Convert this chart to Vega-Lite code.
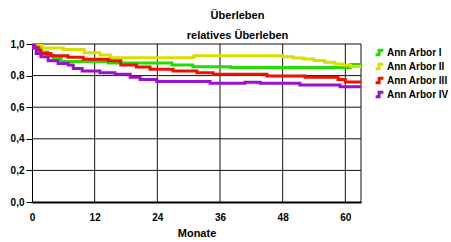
{
  "$schema": "https://vega.github.io/schema/vega-lite/v6.json",
  "width": 329,
  "height": 158,
  "autosize": {"type": "none"},
  "padding": {"left": 32, "top": 44, "right": 90, "bottom": 40},
  "background": "white",
  "config": {
    "font": "Liberation Sans",
    "view": {"stroke": null},
    "axisX": {
      "tickCount": 63,
      "labelExpr": "datum.value % 12 === 0 ? datum.label : ''",
      "labelOverlap": false,
      "labelFlush": false,
      "titleFont": "Liberation Sans",
      "titleFontSize": 11,
      "titleFontWeight": "bold",
      "titleColor": "black",
      "titlePadding": 5,
      "labelFont": "Liberation Sans",
      "labelFontSize": 10,
      "labelFontWeight": "bold",
      "labelColor": "black",
      "labelPadding": 10,
      "domainColor": "black",
      "domainWidth": 2,
      "tickColor": "black",
      "tickSize": 0,
      "grid": false
    },
    "axisY": {
      "labelExpr": "replace(format(datum.value, '.1f'), '.', ',')",
      "labelFont": "Liberation Sans",
      "labelFontSize": 10,
      "labelFontWeight": "bold",
      "labelColor": "black",
      "labelPadding": 2,
      "domainColor": "black",
      "domainWidth": 1,
      "tickColor": "black",
      "tickSize": 6,
      "grid": false
    }
  },
  "title": {
    "text": ["Überleben", "relatives Überleben"],
    "fontSize": 11,
    "fontWeight": "bold",
    "font": "Liberation Sans",
    "color": "black",
    "lineHeight": 20,
    "anchor": "middle",
    "dx": 41,
    "offset": -2
  },
  "datasets": {
    "xgrid": [{"t": 12}, {"t": 24}, {"t": 36}, {"t": 48}, {"t": 60}, {"t": 63}],
    "ygrid": [{"s": 0.2}, {"s": 0.4}, {"s": 0.6}, {"s": 0.8}, {"s": 1.0}],
    "surv": [
      {"g": "Ann Arbor I", "t": 0, "s": 1.0},
      {"g": "Ann Arbor I", "t": 0.8, "s": 0.98},
      {"g": "Ann Arbor I", "t": 1.7, "s": 0.95},
      {"g": "Ann Arbor I", "t": 3, "s": 0.93},
      {"g": "Ann Arbor I", "t": 4, "s": 0.91},
      {"g": "Ann Arbor I", "t": 5.6, "s": 0.89},
      {"g": "Ann Arbor I", "t": 14.6, "s": 0.88},
      {"g": "Ann Arbor I", "t": 26.8, "s": 0.867},
      {"g": "Ann Arbor I", "t": 30.8, "s": 0.856},
      {"g": "Ann Arbor I", "t": 38, "s": 0.852},
      {"g": "Ann Arbor I", "t": 61, "s": 0.871},
      {"g": "Ann Arbor I", "t": 63, "s": 0.871},
      {"g": "Ann Arbor II", "t": 0, "s": 1.0},
      {"g": "Ann Arbor II", "t": 1, "s": 0.99},
      {"g": "Ann Arbor II", "t": 2, "s": 0.975},
      {"g": "Ann Arbor II", "t": 6, "s": 0.965},
      {"g": "Ann Arbor II", "t": 10, "s": 0.945},
      {"g": "Ann Arbor II", "t": 13, "s": 0.93},
      {"g": "Ann Arbor II", "t": 15, "s": 0.913},
      {"g": "Ann Arbor II", "t": 31, "s": 0.926},
      {"g": "Ann Arbor II", "t": 48, "s": 0.92},
      {"g": "Ann Arbor II", "t": 50, "s": 0.912},
      {"g": "Ann Arbor II", "t": 52, "s": 0.905},
      {"g": "Ann Arbor II", "t": 54, "s": 0.895},
      {"g": "Ann Arbor II", "t": 56, "s": 0.885},
      {"g": "Ann Arbor II", "t": 58, "s": 0.873},
      {"g": "Ann Arbor II", "t": 59.5, "s": 0.865},
      {"g": "Ann Arbor II", "t": 61, "s": 0.858},
      {"g": "Ann Arbor II", "t": 63, "s": 0.856},
      {"g": "Ann Arbor III", "t": 0, "s": 1.0},
      {"g": "Ann Arbor III", "t": 0.5, "s": 0.98},
      {"g": "Ann Arbor III", "t": 1.2, "s": 0.96},
      {"g": "Ann Arbor III", "t": 1.7, "s": 0.94},
      {"g": "Ann Arbor III", "t": 3.6, "s": 0.926},
      {"g": "Ann Arbor III", "t": 6.9, "s": 0.916},
      {"g": "Ann Arbor III", "t": 9.8, "s": 0.903},
      {"g": "Ann Arbor III", "t": 14.6, "s": 0.894},
      {"g": "Ann Arbor III", "t": 17, "s": 0.867},
      {"g": "Ann Arbor III", "t": 20, "s": 0.855},
      {"g": "Ann Arbor III", "t": 22.6, "s": 0.84},
      {"g": "Ann Arbor III", "t": 27, "s": 0.829},
      {"g": "Ann Arbor III", "t": 31.6, "s": 0.818},
      {"g": "Ann Arbor III", "t": 34.7, "s": 0.808},
      {"g": "Ann Arbor III", "t": 45, "s": 0.797},
      {"g": "Ann Arbor III", "t": 52.3, "s": 0.79},
      {"g": "Ann Arbor III", "t": 58.6, "s": 0.776},
      {"g": "Ann Arbor III", "t": 60, "s": 0.76},
      {"g": "Ann Arbor III", "t": 63, "s": 0.76},
      {"g": "Ann Arbor IV", "t": 0, "s": 1.0},
      {"g": "Ann Arbor IV", "t": 0.2, "s": 0.975},
      {"g": "Ann Arbor IV", "t": 0.8, "s": 0.94},
      {"g": "Ann Arbor IV", "t": 1.7, "s": 0.92},
      {"g": "Ann Arbor IV", "t": 3.1, "s": 0.894},
      {"g": "Ann Arbor IV", "t": 5, "s": 0.877},
      {"g": "Ann Arbor IV", "t": 6.9, "s": 0.867},
      {"g": "Ann Arbor IV", "t": 7.9, "s": 0.845},
      {"g": "Ann Arbor IV", "t": 9.6, "s": 0.829},
      {"g": "Ann Arbor IV", "t": 13, "s": 0.818},
      {"g": "Ann Arbor IV", "t": 15.9, "s": 0.808},
      {"g": "Ann Arbor IV", "t": 18.8, "s": 0.79},
      {"g": "Ann Arbor IV", "t": 20.7, "s": 0.776},
      {"g": "Ann Arbor IV", "t": 23.9, "s": 0.762},
      {"g": "Ann Arbor IV", "t": 34.1, "s": 0.752},
      {"g": "Ann Arbor IV", "t": 40.8, "s": 0.758},
      {"g": "Ann Arbor IV", "t": 43.7, "s": 0.752},
      {"g": "Ann Arbor IV", "t": 51.3, "s": 0.74},
      {"g": "Ann Arbor IV", "t": 59, "s": 0.73},
      {"g": "Ann Arbor IV", "t": 63, "s": 0.73}
    ]
  },
  "layer": [
    {
      "data": {"name": "xgrid"},
      "mark": {"type": "rule", "color": "#111111", "strokeWidth": 1},
      "encoding": {
        "x": {"field": "t", "type": "quantitative", "scale": {"domain": [0, 63], "nice": false, "zero": false}, "title": "Monate"}
      }
    },
    {
      "data": {"name": "ygrid"},
      "mark": {"type": "rule", "color": "#111111", "strokeWidth": 1},
      "encoding": {
        "y": {"field": "s", "type": "quantitative", "scale": {"domain": [0, 1], "nice": false}, "title": null}
      }
    },
    {
      "data": {"name": "surv"},
      "mark": {"type": "line", "interpolate": "step-after", "strokeWidth": 3, "clip": true},
      "encoding": {
        "x": {"field": "t", "type": "quantitative", "title": "Monate"},
        "y": {"field": "s", "type": "quantitative", "title": null},
        "color": {
          "field": "g",
          "type": "nominal",
          "scale": {
            "domain": ["Ann Arbor I", "Ann Arbor II", "Ann Arbor III", "Ann Arbor IV"],
            "range": ["#22dd00", "#dddd00", "#ee1100", "#9911cc"]
          },
          "legend": {
            "title": null,
            "orient": "none",
            "legendX": 342,
            "legendY": 3,
            "symbolType": "M -1 0.6 H -0.1 V -0.6 H 1",
            "symbolFillColor": "transparent",
            "symbolStrokeWidth": 3,
            "symbolSize": 60,
            "symbolOffset": 0,
            "labelFont": "Liberation Sans",
            "labelFontSize": 10,
            "labelFontWeight": "bold",
            "labelColor": "black",
            "labelOffset": 2,
            "rowPadding": -5.5,
            "labelLimit": 200
          }
        }
      }
    }
  ]
}
